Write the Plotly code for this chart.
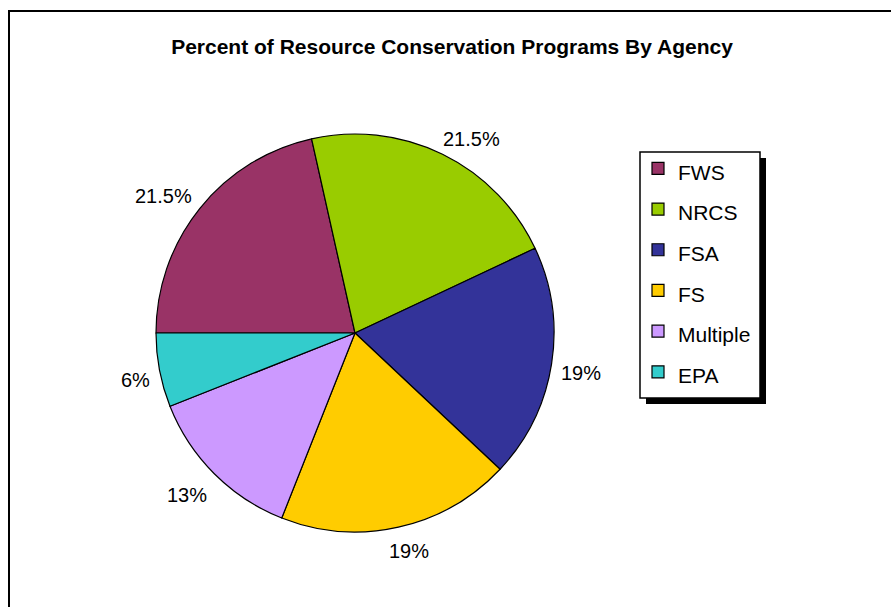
import math
import plotly.graph_objects as go

categories = ["FWS", "NRCS", "FSA", "FS", "Multiple", "EPA"]
values = [21.5, 21.5, 19, 19, 13, 6]
colors = ["#993366", "#99CC00", "#333399", "#FFCC00", "#CC99FF", "#33CCCC"]
title_text = "Percent of Resource Conservation Programs By Agency"

W, H = 891, 607
cx, cy, r = 355, 333, 199
label_gap = 10
start_angle = 270  # degrees clockwise from 12 o'clock
label_size = 20

labels_fmt = [f"{v:g}%" for v in values]
legend_labels = [f"<span style='font-size:21px'>{c}</span>" for c in categories]

fig = go.Figure(go.Pie(
    labels=legend_labels,
    values=values,
    textinfo="none",
    marker=dict(colors=colors, line=dict(color="black", width=1.2)),
    sort=False,
    direction="clockwise",
    rotation=start_angle,
    domain=dict(x=[(cx - r) / W, (cx + r) / W], y=[1 - (cy + r) / H, 1 - (cy - r) / H]),
    hoverinfo="skip",
    showlegend=True,
))

# outside percentage labels, anchored like Excel's best-fit outside labels
char_w = {"%": 0.889, ".": 0.278}
annotations = []
total = sum(values)
cum = 0.0
for v, t in zip(values, labels_fmt):
    mid = start_angle + 360.0 * (cum + v / 2) / total
    cum += v
    a = math.radians(mid)
    s, c = math.sin(a), math.cos(a)
    hw = label_size * sum(char_w.get(ch, 0.556) for ch in t) / 2
    hh = label_size * 0.5
    clip = lambda z: max(-1.0, min(1.0, z))
    px = cx + (r + label_gap) * s + hw * clip(2 * s)
    py = cy - (r + label_gap) * c - hh * clip(2 * c) + 4
    annotations.append(dict(x=px / W, y=1 - py / H, xref="paper", yref="paper", text=t,
                            showarrow=False, xanchor="center", yanchor="middle",
                            font=dict(family="Liberation Sans, Arial", size=label_size, color="black")))

bx0, by0, bx1, by1 = 640, 152, 760, 398
shadow = 6
fig.update_layout(
    width=W, height=H,
    margin=dict(l=0, r=0, t=0, b=0),
    paper_bgcolor="white",
    plot_bgcolor="white",
    font=dict(family="Liberation Sans, Arial", color="black"),
    title=dict(text=f"<b>{title_text}</b>", x=452 / W, xanchor="center", y=1 - 47 / H, yanchor="middle",
               font=dict(size=21, family="Liberation Sans, Arial", color="black")),
    legend=dict(x=638 / W, y=1 - 143 / H, xanchor="left", yanchor="top",
                bgcolor="rgba(0,0,0,0)", borderwidth=0,
                font=dict(size=29, family="Liberation Sans, Arial", color="black"),
                itemclick=False, itemdoubleclick=False),
    annotations=annotations,
    shapes=[
        dict(type="rect", xref="paper", yref="paper", x0=9 / W, y0=-0.05, x1=1.05, y1=1 - 11 / H,
             line=dict(color="black", width=2), fillcolor="rgba(0,0,0,0)", layer="above"),
        dict(type="rect", xref="paper", yref="paper", x0=(bx0 + shadow) / W, y0=1 - (by1 + shadow) / H,
             x1=(bx1 + shadow) / W, y1=1 - (by0 + shadow) / H,
             line=dict(color="black", width=0), fillcolor="black", layer="below"),
        dict(type="rect", xref="paper", yref="paper", x0=bx0 / W, y0=1 - by1 / H,
             x1=bx1 / W, y1=1 - by0 / H,
             line=dict(color="black", width=1.5), fillcolor="white", layer="below"),
    ],
)

fig.write_html("out.html", config={"displayModeBar": False},
               post_script="document.body.style.margin='0px';document.body.style.padding='0px';")
